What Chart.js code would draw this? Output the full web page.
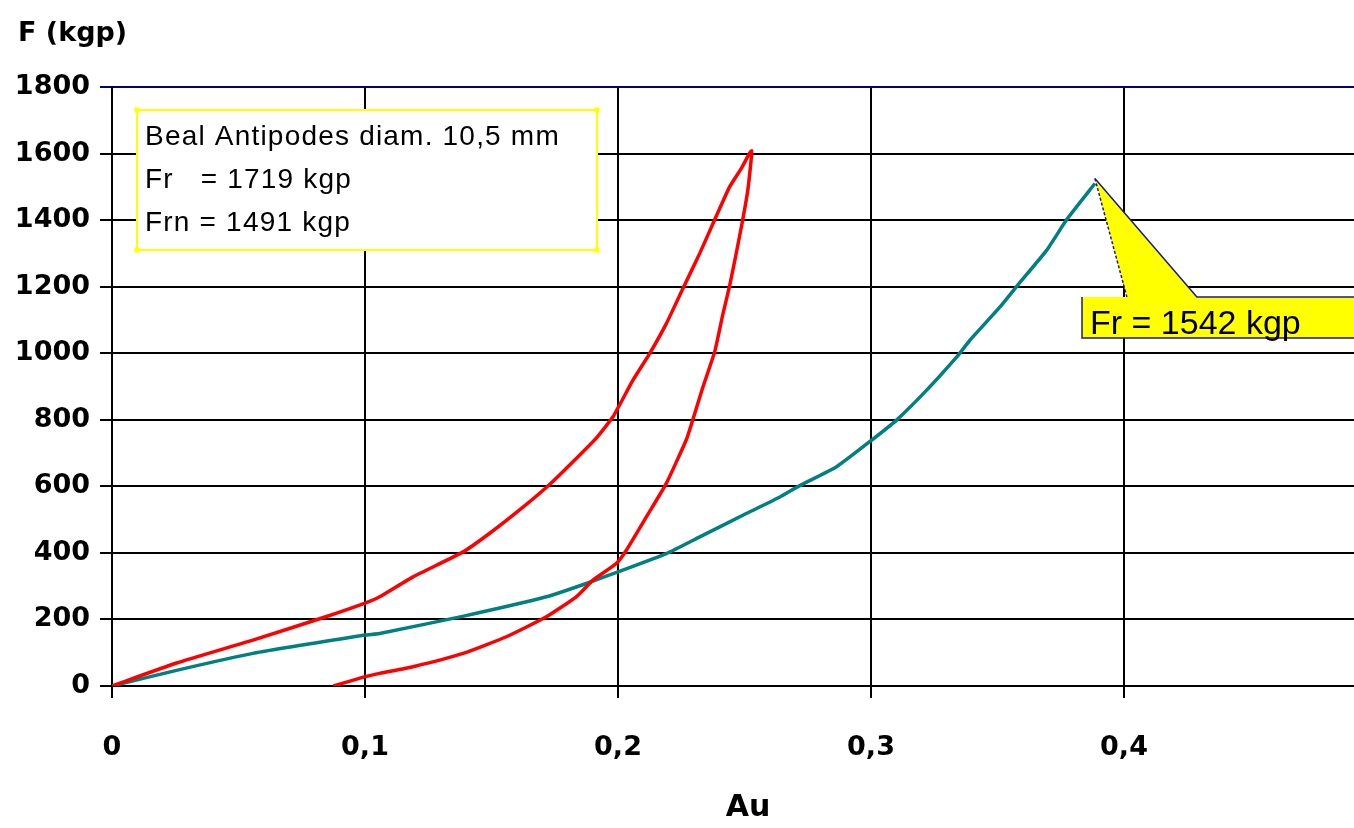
<!DOCTYPE html>
<html>
<head>
<meta charset="utf-8">
<script src="https://cdn.jsdelivr.net/npm/chart.js@4.4.1/dist/chart.umd.min.js"></script>
<style>
html,body{margin:0;padding:0;background:#fff;overflow:hidden;}
#wrap{width:1354px;height:828px;}
</style>
</head>
<body>
<div id="wrap"><canvas id="myChart" width="1354" height="828"></canvas></div>
<script>
// red rope: loading then unloading (one loop)
let redAu = [0, 0.0255, 0.0557, 0.0845, 0.1, 0.1058, 0.119, 0.1388, 0.1493, 0.1611, 0.1723, 0.1822, 0.1914, 0.198, 0.2059, 0.2125, 0.2191, 0.2257, 0.2323, 0.2382, 0.2441, 0.2487, 0.252, 0.2528,
             0.2526, 0.2513, 0.2493, 0.2467, 0.2441, 0.2415, 0.2382, 0.2335, 0.2296, 0.227, 0.2191, 0.2112, 0.2033, 0.1993, 0.1901, 0.1835, 0.1717, 0.1559, 0.1388, 0.119, 0.1058, 0.1, 0.0875];
let redF  = [0, 69, 138, 208, 249, 268, 328, 403, 459, 529, 601, 674, 745, 809, 919, 999, 1089, 1195, 1300, 1401, 1500, 1555, 1601, 1608,
             1580, 1490, 1401, 1299, 1202, 1119, 1004, 897, 801, 740, 609, 508, 408, 368, 318, 268, 208, 148, 98, 58, 38, 28, 0];

// teal rope
let tealAu = [0, 0.0255, 0.0557, 0.1, 0.1058, 0.139, 0.1717, 0.1875, 0.2, 0.2191, 0.2323, 0.2509, 0.264, 0.2713, 0.2864, 0.3003, 0.3101, 0.322, 0.3339, 0.3391, 0.351, 0.3576, 0.3694, 0.3773, 0.3885];
let tealF  = [0, 47, 98, 153, 158, 210, 268, 308, 343, 398, 448, 519, 568, 600, 659, 739, 799, 889, 989, 1039, 1139, 1201, 1309, 1401, 1510];

let xTicks = [0, 0.1, 0.2, 0.3, 0.4];
let xTickLabels = ['0', '0,1', '0,2', '0,3', '0,4'];
let yTitle = 'F (kgp)';
let xTitle = 'Au';
let boxLines = ['Beal Antipodes diam. 10,5 mm', 'Fr   = 1719 kgp', 'Frn = 1491 kgp'];
let calloutText = 'Fr = 1542 kgp';

let toPoints = (xs, ys) => xs.map((v, i) => ({x: v, y: ys[i]}));

let notesPlugin = {
    id: 'notes',
    afterDatasetsDraw(chart) {
        let ctx = chart.ctx;
        let xs = chart.scales.x, ys = chart.scales.y;
        ctx.save();

        // axis titles (y one sits horizontally at top left)
        ctx.fillStyle = '#000';
        ctx.textAlign = 'left';
        ctx.textBaseline = 'alphabetic';
        ctx.font = 'bold 27px "DejaVu Sans"';
        ctx.fillText(yTitle, 18, 41);
        ctx.textAlign = 'center';
        ctx.font = 'bold 30px "DejaVu Sans"';
        ctx.fillText(xTitle, 748, 816);
        ctx.textAlign = 'left';

        // info box
        ctx.fillStyle = '#fff';
        ctx.fillRect(137, 110, 460, 140);
        ctx.strokeStyle = '#ffff00';
        ctx.lineWidth = 2;
        ctx.strokeRect(137, 110, 460, 140);
        ctx.fillStyle = '#ffff00';
        [[137, 110], [597, 110], [137, 250], [597, 250]].forEach(p => ctx.fillRect(p[0] - 2.5, p[1] - 2.5, 5, 5));
        ctx.fillStyle = '#000';
        ctx.font = '28px "Liberation Sans"';
        ctx.letterSpacing = '1.2px';
        boxLines.forEach((t, i) => ctx.fillText(t, 145, 145 + i * 43));
        ctx.letterSpacing = '0px';

        // callout pointing at the teal peak
        let n = tealAu.length - 1;
        let tx = xs.getPixelForValue(tealAu[n]);
        let ty = ys.getPixelForValue(tealF[n]) - 5;
        let top = 297, bot = 338, left = 1082, right = 1360;
        ctx.beginPath();
        ctx.moveTo(tx, ty);
        ctx.lineTo(tx + 102, top);
        ctx.lineTo(right, top);
        ctx.lineTo(right, bot);
        ctx.lineTo(left, bot);
        ctx.lineTo(left, top);
        ctx.lineTo(tx + 32, top);
        ctx.closePath();
        ctx.fillStyle = '#ffff00';
        ctx.fill();
        ctx.strokeStyle = '#1a1a8c';
        ctx.lineWidth = 1.5;
        ctx.beginPath();
        ctx.moveTo(tx, ty);
        ctx.lineTo(tx + 102, top);
        ctx.lineTo(right, top);
        ctx.moveTo(right, bot);
        ctx.lineTo(left, bot);
        ctx.lineTo(left, top);
        ctx.stroke();
        ctx.setLineDash([3, 2]);
        ctx.beginPath();
        ctx.moveTo(tx, ty);
        ctx.lineTo(tx + 32, top);
        ctx.stroke();
        ctx.setLineDash([]);
        ctx.fillStyle = '#000';
        ctx.font = '34px "Liberation Sans"';
        ctx.fillText(calloutText, 1090, 334);

        ctx.restore();
    }
};

let tickFont = {family: 'DejaVu Sans', weight: 'bold', size: 27};

let chart1 = new Chart(document.getElementById('myChart').getContext('2d'), {
    type: 'scatter',
    data: {
        datasets: [{
            data: toPoints(redAu, redF),
            showLine: true,
            borderColor: '#ff0000',
            borderWidth: 3.5,
            pointRadius: 0,
            tension: 0.15
        }, {
            data: toPoints(tealAu, tealF),
            showLine: true,
            borderColor: '#008080',
            borderWidth: 3.5,
            pointRadius: 0,
            tension: 0.15
        }]
    },
    options: {
        responsive: false,
        animation: false,
        layout: {padding: {top: 87, right: 0, left: 0, bottom: 0}},
        plugins: {legend: {display: false}, tooltip: {enabled: false}, title: {display: false}},
        scales: {
            x: {
                type: 'linear', min: 0, max: 1242 / 2530,
                afterFit: s => { s.height = 142; },
                afterBuildTicks: s => { s.ticks = xTicks.map(v => ({value: v})); },
                ticks: {
                    padding: 34, color: '#000', font: tickFont, maxRotation: 0,
                    callback: v => xTickLabels[xTicks.indexOf(v)]
                },
                grid: {color: '#000', lineWidth: 2, tickLength: 12},
                border: {color: '#000', width: 2}
            },
            y: {
                min: 0, max: 1800,
                afterFit: s => { s.width = 112; },
                ticks: {stepSize: 200, padding: 10, color: '#000', font: tickFont, callback: v => String(v)},
                grid: {color: c => (c.tick && c.tick.value === 1800) ? '#000080' : '#000', lineWidth: 2, tickLength: 12},
                border: {color: '#000', width: 2}
            }
        }
    },
    plugins: [notesPlugin]
});
</script>
</body>
</html>
